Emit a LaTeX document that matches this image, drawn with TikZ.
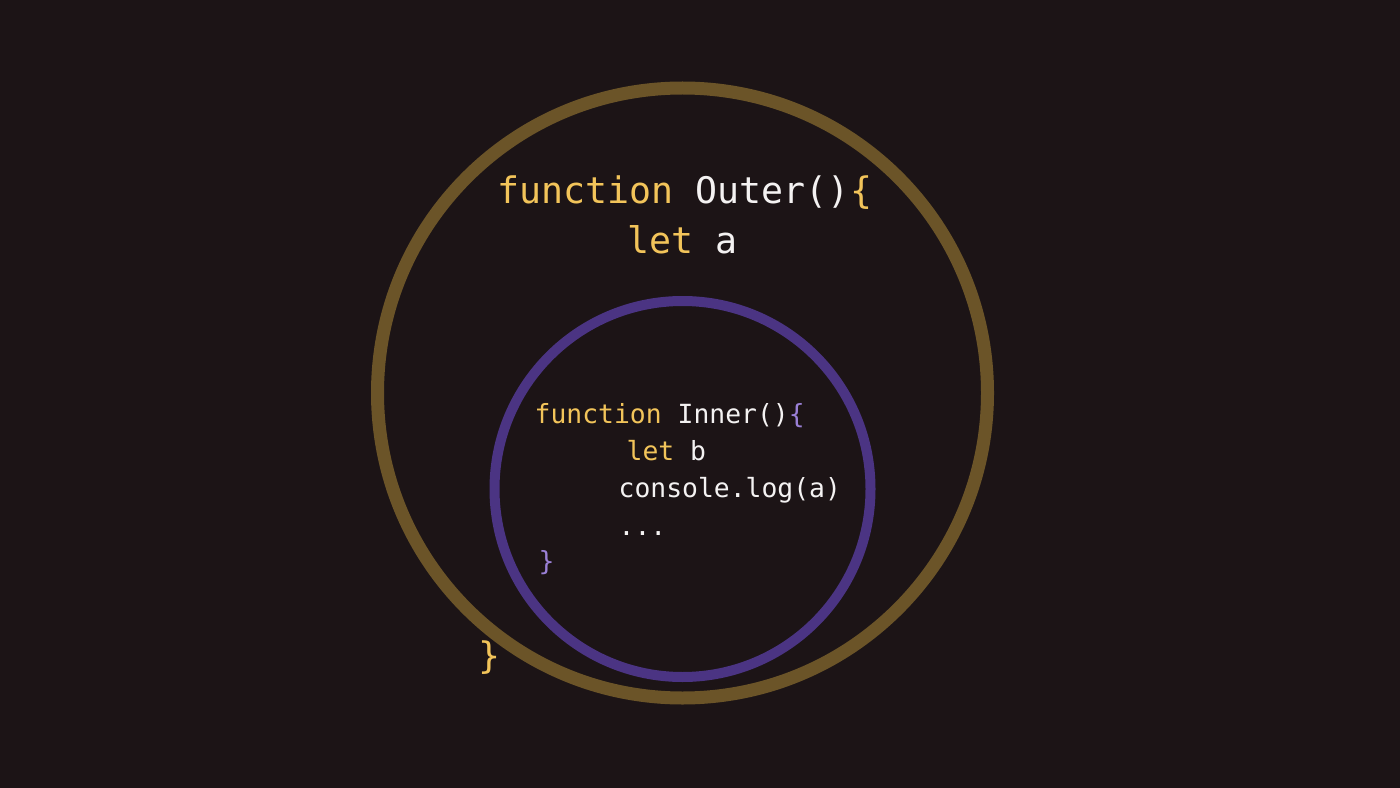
\documentclass[tikz,border=0pt]{standalone}
\usepackage{fontspec}
\setmonofont{DejaVu Sans Mono}
\usepackage{tikz}
\definecolor{night}{HTML}{1C1416}
\definecolor{bronze}{HTML}{6B5428}
\definecolor{indigo}{HTML}{4B3483}
\definecolor{keyword}{HTML}{F2C45A}
\definecolor{plain}{HTML}{F4F2F2}
\definecolor{lilac}{HTML}{9A80D6}

\begin{document}
\begin{tikzpicture}[x=0.01cm, y=-0.01cm,
        bigcode/.style={anchor=base west, inner sep=0pt, font=\ttfamily\fontsize{10.4pt}{12pt}\selectfont},
        smallcode/.style={anchor=base west, inner sep=0pt, font=\ttfamily\fontsize{7.5pt}{9pt}\selectfont}]

        % Background
        \fill[night] (0,0) rectangle (1400,788);
        \useasboundingbox (0,0) rectangle (1400,788);

        % Outer scope
        \draw[bronze, line width=13*0.01cm] (682.5,393) circle (305);

        % Inner scope
        \draw[indigo, line width=10*0.01cm] (682.5,489) circle (188);

        % Outer code
        \node[bigcode] (outerhead) at (497,203) {\textcolor{keyword}{function} \textcolor{plain}{Outer()}\textcolor{keyword}{\{}};
        \node[bigcode] (outerlet) at (627,254) {\textcolor{keyword}{let} \textcolor{plain}{a}};
        \node[bigcode, text=keyword] (outerclose) at (478,668) {\}};

        % Inner code
        \node[smallcode] (innerhead) at (534,423) {\textcolor{keyword}{function} \textcolor{plain}{Inner()}\textcolor{lilac}{\{}};
        \node[smallcode] (innerlet) at (626,460) {\textcolor{keyword}{let} \textcolor{plain}{b}};
        \node[smallcode, text=plain] (innerlog) at (618,497) {console.log(a)};
        \node[smallcode, text=plain] (innerdots) at (618,535) {...};
        \node[smallcode, text=lilac] (innerclose) at (538,570) {\}};
\end{tikzpicture}
\end{document}
